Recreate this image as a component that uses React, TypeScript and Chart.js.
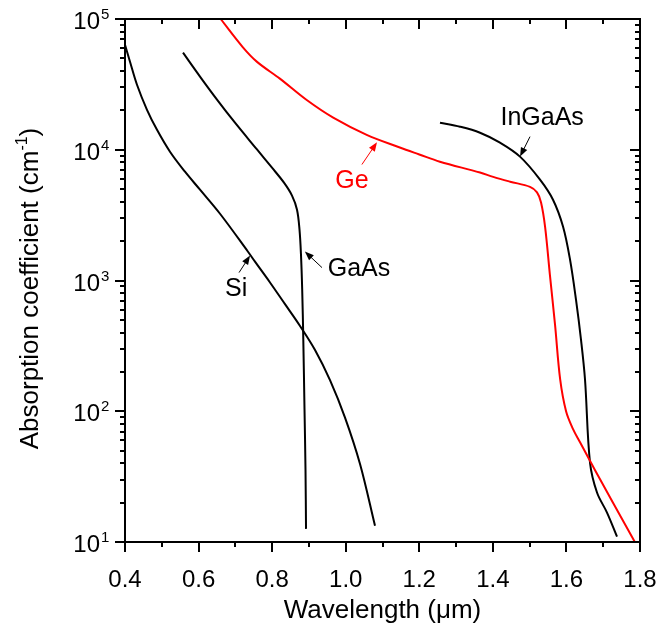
import React, { useEffect, useRef } from "react";
import { Chart, registerables } from "chart.js";

Chart.register(...registerables);

// ---- Data (wavelength in µm, absorption coefficient in cm^-1) ----
const siWavelength = [0.40, 0.4136, 0.4326, 0.4598, 0.487, 0.5223, 0.5631, 0.6039, 0.6583, 0.7344, 0.7534, 0.7942, 0.835, 0.8758, 0.9166, 0.9573, 0.9981, 1.0389, 1.0796];
const siAlpha = [63500, 47100, 31400, 20200, 14200, 9660, 6790, 4950, 3240, 1660, 1393, 966, 659, 449, 294, 173, 89.5, 39.5, 13.3];

const gaasWavelength = [0.5577, 0.6039, 0.6501, 0.699, 0.7588, 0.7996, 0.8322, 0.854, 0.8676, 0.8744, 0.8784, 0.8817, 0.8847, 0.888, 0.8907, 0.8921];
const gaasAlpha = [55300, 36300, 24200, 16100, 10050, 7290, 5600, 4460, 3480, 2450, 1576, 851, 353, 103, 35.7, 12.6];

const geWavelength = [0.66, 0.72, 0.759, 0.821, 0.894, 0.966, 1.057, 1.147, 1.20, 1.256, 1.365, 1.401, 1.447, 1.501, 1.520, 1.531, 1.542, 1.555, 1.569, 1.583, 1.599, 1.618, 1.637, 1.664, 1.691, 1.727, 1.786];
const geAlpha = [100000, 61000, 47000, 35000, 24000, 17600, 13000, 10400, 9200, 8100, 6700, 6200, 5700, 5200, 4720, 3950, 2570, 1110, 460, 175, 100, 73, 57.9, 41.8, 30.3, 19.9, 10];

const ingaasWavelength = [1.2563, 1.3107, 1.3651, 1.4194, 1.4738, 1.5282, 1.5635, 1.5907, 1.6097, 1.626, 1.6396, 1.6505, 1.6641, 1.6831, 1.7103, 1.7375];
const ingaasAlpha = [16100, 15000, 13500, 11330, 8860, 5910, 4150, 2590, 1450, 714, 353, 175, 40.5, 23.9, 16.8, 11.0];

// ---- Axis ticks ----
const xMajorTicks = [0.4, 0.6, 0.8, 1.0, 1.2, 1.4, 1.6, 1.8];
const xMinorTicks = [0.5, 0.7, 0.9, 1.1, 1.3, 1.5, 1.7];
const yDecadeExponents = [1, 2, 3, 4, 5];
const yMinorMultipliers = [2, 3, 4, 5, 6, 7, 8, 9];

// ---- Annotations (data coordinates) ----
const annotationLabels = ["Si", "GaAs", "Ge", "InGaAs"];
const annotationColors = ["#000000", "#000000", "#ff0000", "#000000"];
const annotationTextPos = [[0.702, 865], [1.036, 1230], [1.017, 5710], [1.534, 17600]];
const annotationArrowTail = [[0.71, 1150], [0.9355, 1255], [1.044, 7710], [1.501, 12600]];
const annotationArrowHead = [[0.740, 1550], [0.889, 1665], [1.085, 11400], [1.474, 8870]];

const FONT = '"Liberation Sans", Arial, Helvetica, sans-serif';

function toPoints(xs: number[], ys: number[]) {
  return xs.map((x, i) => ({ x, y: ys[i] }));
}

function drawArrow(ctx: CanvasRenderingContext2D, x1: number, y1: number, x2: number, y2: number, color: string) {
  const ang = Math.atan2(y2 - y1, x2 - x1);
  const headLen = 9;
  const headW = 3.5;
  ctx.save();
  ctx.strokeStyle = color;
  ctx.fillStyle = color;
  ctx.lineWidth = 1;
  ctx.beginPath();
  ctx.moveTo(x1, y1);
  ctx.lineTo(x2 - Math.cos(ang) * headLen * 0.8, y2 - Math.sin(ang) * headLen * 0.8);
  ctx.stroke();
  ctx.beginPath();
  ctx.moveTo(x2, y2);
  ctx.lineTo(x2 - Math.cos(ang) * headLen - Math.sin(ang) * headW, y2 - Math.sin(ang) * headLen + Math.cos(ang) * headW);
  ctx.lineTo(x2 - Math.cos(ang) * headLen + Math.sin(ang) * headW, y2 - Math.sin(ang) * headLen - Math.cos(ang) * headW);
  ctx.closePath();
  ctx.fill();
  ctx.restore();
}

const framePlugin = {
  id: "originFrame",
  afterDraw(chart: any) {
    const { ctx, chartArea: a, scales } = chart;
    const xs = scales.x;
    const ys = scales.y;
    ctx.save();
    ctx.strokeStyle = "#000";
    ctx.lineWidth = 2;
    ctx.strokeRect(a.left, a.top, a.right - a.left, a.bottom - a.top);

    const line = (x1: number, y1: number, x2: number, y2: number) => {
      ctx.beginPath();
      ctx.moveTo(x1, y1);
      ctx.lineTo(x2, y2);
      ctx.stroke();
    };

    // x ticks (bottom outward, top inward — both pointing down)
    xMajorTicks.forEach((v) => {
      const px = Math.round(xs.getPixelForValue(v));
      line(px, a.bottom, px, a.bottom + 10);
      line(px, a.top, px, a.top + 10);
    });
    xMinorTicks.forEach((v) => {
      const px = Math.round(xs.getPixelForValue(v));
      line(px, a.bottom, px, a.bottom + 5);
      line(px, a.top, px, a.top + 5);
    });
    // y ticks (left outward, right inward — both pointing left)
    yDecadeExponents.forEach((e) => {
      const py = Math.round(ys.getPixelForValue(Math.pow(10, e)));
      line(a.left - 10, py, a.left, py);
      line(a.right - 10, py, a.right, py);
      if (e < 5) {
        yMinorMultipliers.forEach((m) => {
          const pm = Math.round(ys.getPixelForValue(m * Math.pow(10, e)));
          line(a.left - 5, pm, a.left, pm);
          line(a.right - 5, pm, a.right, pm);
        });
      }
    });

    // x tick labels
    ctx.fillStyle = "#000";
    ctx.font = `24px ${FONT}`;
    ctx.textAlign = "center";
    ctx.textBaseline = "alphabetic";
    xMajorTicks.forEach((v) => {
      const px = xs.getPixelForValue(v);
      ctx.fillText(v.toFixed(1), px, a.bottom + 45);
    });

    // y tick labels 10^n
    yDecadeExponents.forEach((e) => {
      const py = ys.getPixelForValue(Math.pow(10, e));
      const rightEdge = a.left - 25;
      ctx.font = `24px ${FONT}`;
      ctx.textAlign = "right";
      ctx.fillText("10", rightEdge, py + 10);
      ctx.font = `15px ${FONT}`;
      ctx.textAlign = "left";
      ctx.fillText(String(e), rightEdge + 1, py);
    });

    // x title
    ctx.font = `26px ${FONT}`;
    ctx.textAlign = "center";
    ctx.fillText("Wavelength (\u03bcm)", (a.left + a.right) / 2, a.bottom + 76);

    // y title (rotated) with superscript
    ctx.save();
    ctx.translate(38, (a.top + a.bottom) / 2 + 8);
    ctx.rotate(-Math.PI / 2);
    const main = "Absorption coefficient (cm";
    const sup = "-1";
    const close = ")";
    ctx.font = `26px ${FONT}`;
    const wMain = ctx.measureText(main).width;
    const wClose = ctx.measureText(close).width;
    ctx.font = `16px ${FONT}`;
    const wSup = ctx.measureText(sup).width;
    const total = wMain + wSup + wClose;
    let cx = -total / 2;
    ctx.textAlign = "left";
    ctx.font = `26px ${FONT}`;
    ctx.fillText(main, cx, 0);
    cx += wMain;
    ctx.font = `16px ${FONT}`;
    ctx.fillText(sup, cx, -11);
    cx += wSup;
    ctx.font = `26px ${FONT}`;
    ctx.fillText(close, cx, 0);
    ctx.restore();

    // annotations
    annotationLabels.forEach((label, i) => {
      const color = annotationColors[i];
      const tx = xs.getPixelForValue(annotationTextPos[i][0]);
      const ty = ys.getPixelForValue(annotationTextPos[i][1]);
      ctx.font = `25px ${FONT}`;
      ctx.fillStyle = color;
      ctx.textAlign = "center";
      ctx.textBaseline = "middle";
      ctx.fillText(label, tx, ty);
      drawArrow(
        ctx,
        xs.getPixelForValue(annotationArrowTail[i][0]),
        ys.getPixelForValue(annotationArrowTail[i][1]),
        xs.getPixelForValue(annotationArrowHead[i][0]),
        ys.getPixelForValue(annotationArrowHead[i][1]),
        color
      );
    });
    ctx.restore();
  },
};

export default function App() {
  const canvasRef = useRef<HTMLCanvasElement | null>(null);

  useEffect(() => {
    document.body.style.margin = "0";
    const canvas = canvasRef.current;
    if (!canvas) return;
    const mk = (xs: number[], ys: number[], color: string) => ({
      data: toPoints(xs, ys),
      borderColor: color,
      backgroundColor: color,
      borderWidth: 2,
      pointRadius: 0,
      showLine: true,
      fill: false,
      tension: 0.35,
      borderJoinStyle: "round" as const,
    });
    const chart = new Chart(canvas, {
      type: "scatter",
      data: {
        datasets: [
          mk(siWavelength, siAlpha, "#000000"),
          mk(gaasWavelength, gaasAlpha, "#000000"),
          mk(geWavelength, geAlpha, "#ff0000"),
          mk(ingaasWavelength, ingaasAlpha, "#000000"),
        ],
      },
      options: {
        animation: false,
        responsive: false,
        devicePixelRatio: 1,
        layout: { padding: { left: 125, right: 18, top: 19, bottom: 88 } },
        plugins: { legend: { display: false }, tooltip: { enabled: false } },
        events: [],
        scales: {
          x: { type: "linear", min: 0.4, max: 1.8, display: false },
          y: { type: "logarithmic", min: 10, max: 100000, display: false },
        },
      },
      plugins: [framePlugin],
    });
    return () => chart.destroy();
  }, []);

  return <canvas ref={canvasRef} width={658} height={630} style={{ display: "block" }} />;
}
